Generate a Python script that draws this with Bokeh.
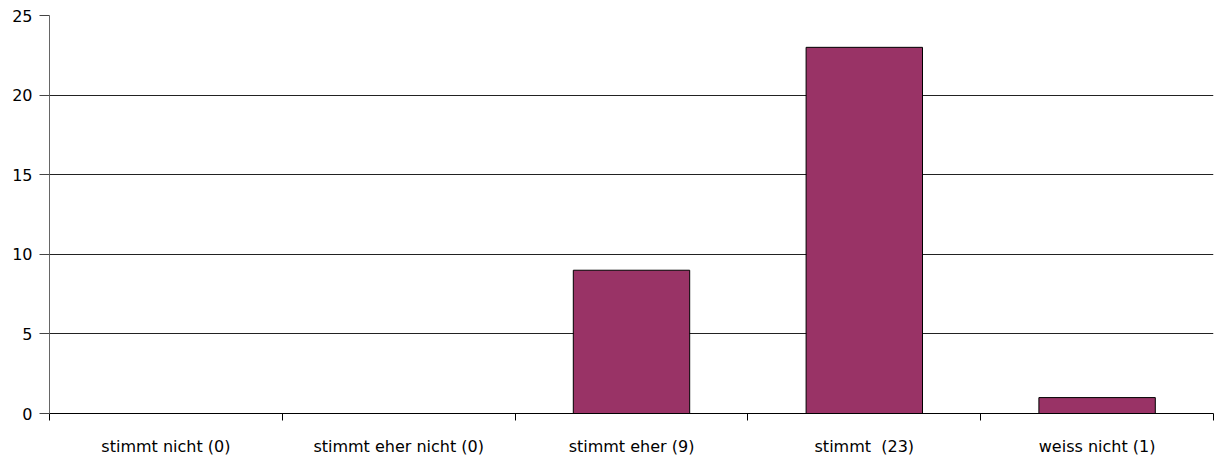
from bokeh.plotting import figure
from bokeh.models import Range1d, FixedTicker
from bokeh.embed import file_html
from bokeh.resources import INLINE

categories = ["stimmt nicht (0)", "stimmt eher nicht (0)", "stimmt eher (9)", "stimmt  (23)", "weiss nicht (1)"]
values = [0, 0, 9, 23, 1]
y_ticks = [0, 5, 10, 15, 20, 25]

centers = [i + 0.5 for i in range(len(categories))]
bounds = list(range(len(categories) + 1))

p = figure(width=1215, height=459, output_backend="svg", toolbar_location=None,
           x_range=Range1d(0, len(categories)), y_range=Range1d(0, 25),
           min_border_left=49, min_border_right=2, min_border_top=15, min_border_bottom=46)
p.outline_line_color = None
p.background_fill_color = "white"

p.vbar(x=centers, top=values, width=0.5, fill_color="#993366", line_color="black", line_width=1)

FONT = "DejaVu Sans"
p.xaxis.ticker = FixedTicker(ticks=centers, minor_ticks=bounds)
# keep double spaces visible in SVG text
p.xaxis.major_label_overrides = {c: lab.replace("  ", "\u00a0 ") for c, lab in zip(centers, categories)}
p.xaxis.major_tick_line_color = None
p.xaxis.major_tick_out = 0
p.xaxis.major_tick_in = 0
p.xaxis.minor_tick_line_color = "black"
p.xaxis.minor_tick_out = 7
p.xaxis.minor_tick_in = 0
p.xaxis.axis_line_color = "black"
p.xaxis.major_label_standoff = 16
p.xaxis.major_label_text_font = FONT
p.xaxis.major_label_text_font_size = "16px"
p.xaxis.major_label_text_color = "black"

p.yaxis.ticker = FixedTicker(ticks=y_ticks)
p.yaxis.minor_tick_line_color = None
p.yaxis.major_tick_out = 10
p.yaxis.major_tick_in = 0
p.yaxis.axis_line_color = "#666666"
p.yaxis.major_tick_line_color = "#444444"
p.yaxis.major_label_standoff = 7
p.yaxis.major_label_text_font = FONT
p.yaxis.major_label_text_font_size = "16px"
p.yaxis.major_label_text_color = "black"

p.xgrid.grid_line_color = None
p.ygrid.grid_line_color = "#222222"
p.ygrid.ticker = FixedTicker(ticks=y_ticks)

open("out.html", "w").write(file_html(p, INLINE))
